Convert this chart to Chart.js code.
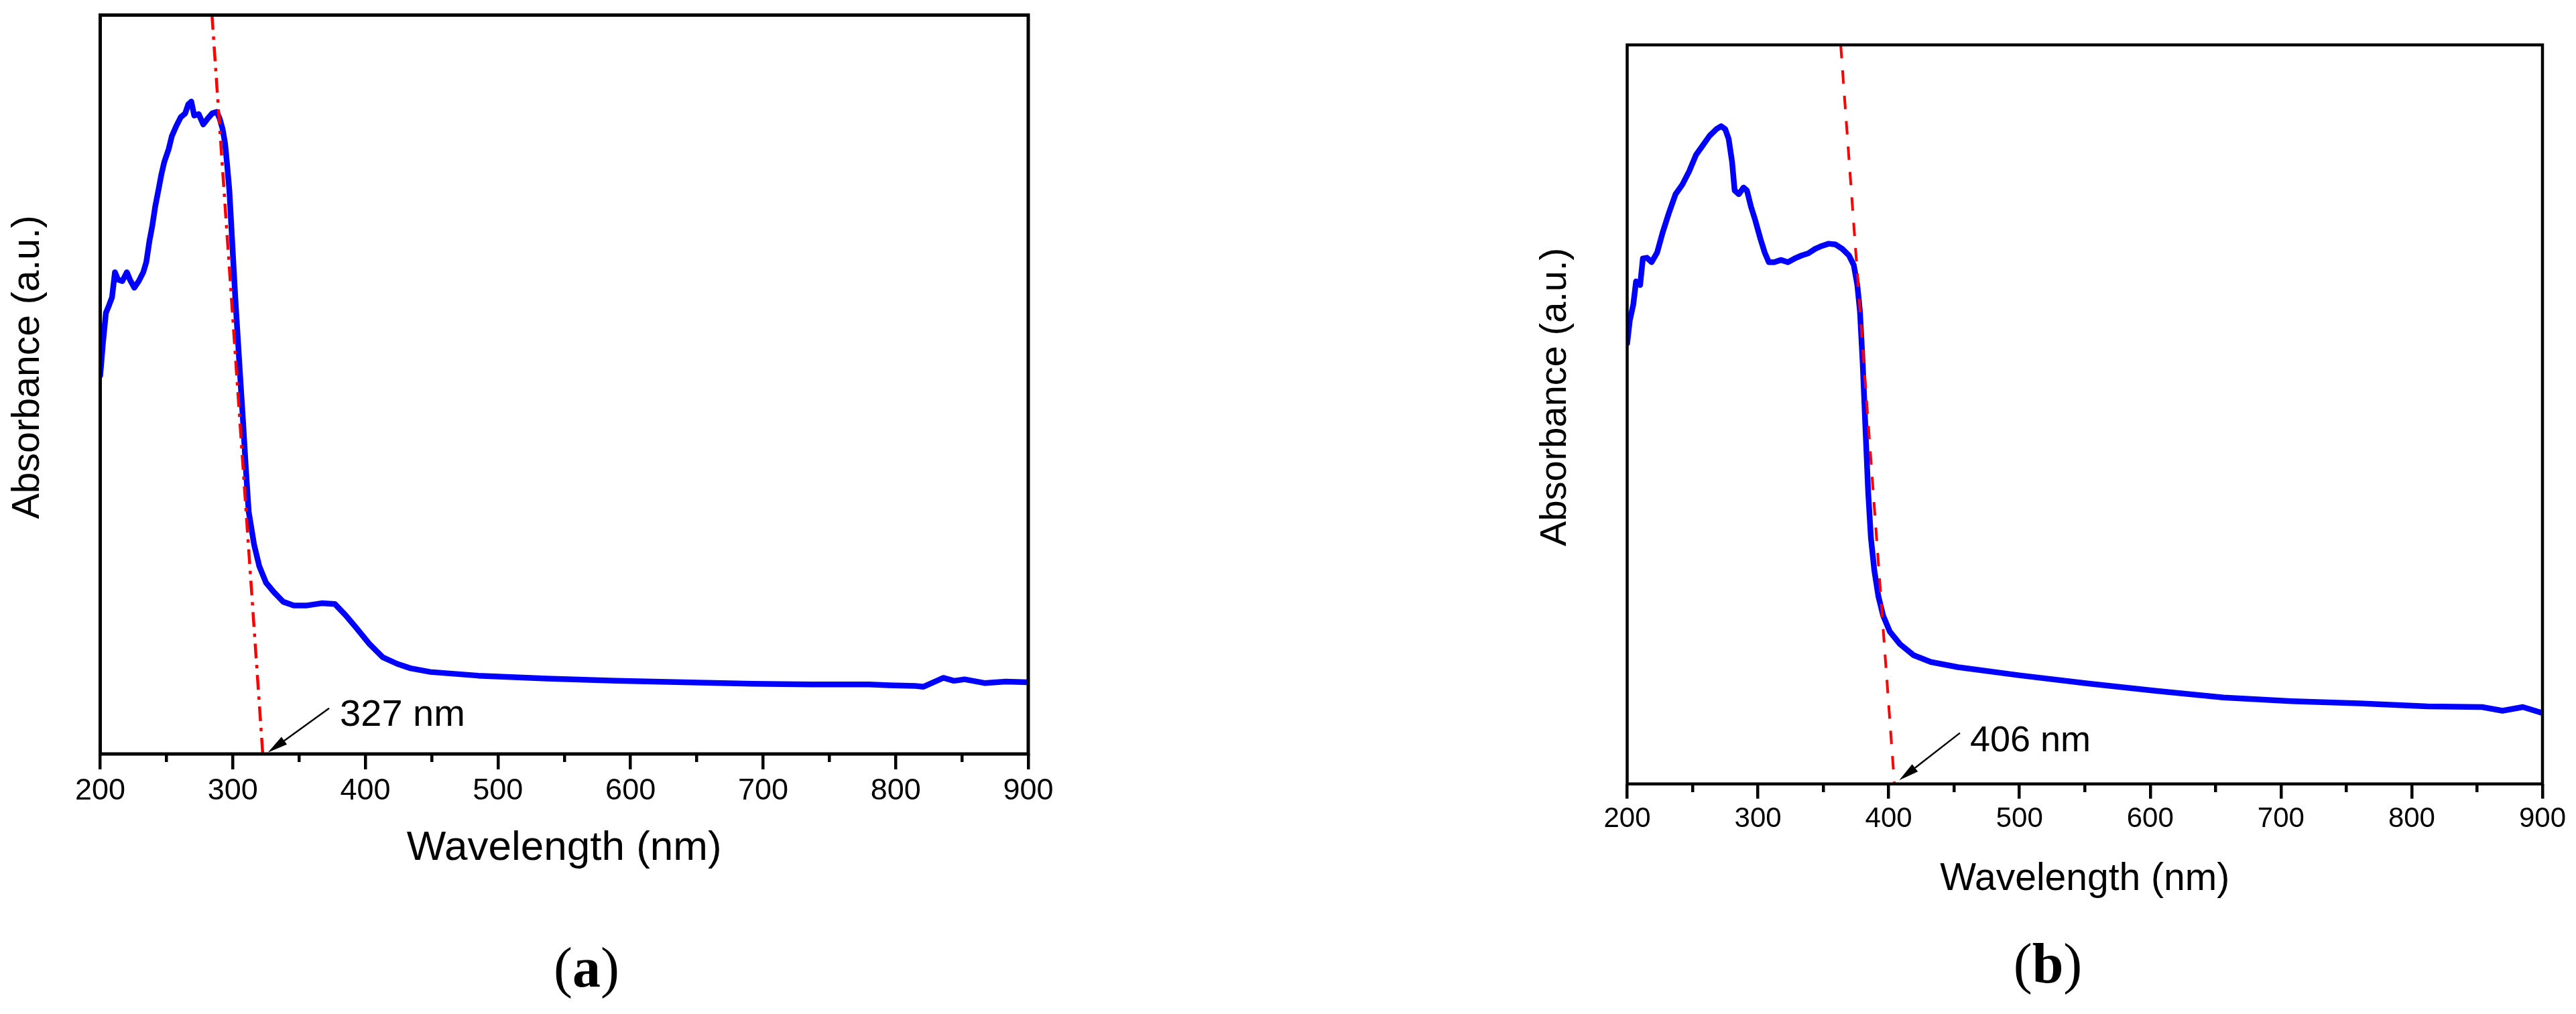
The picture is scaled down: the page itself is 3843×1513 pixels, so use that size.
<!DOCTYPE html>
<html>
<head>
<meta charset="utf-8">
<script src="https://cdn.jsdelivr.net/npm/chart.js@4.4.1/dist/chart.umd.min.js"></script>
<style>
  body { margin: 0; background: #fff; width: 3843px; height: 1513px; position: relative; overflow: hidden; }
  canvas { position: absolute; top: 0; }
  .cap { position: absolute; font-family: 'Liberation Serif', 'Times New Roman', serif; font-size: 84px; line-height: 1; transform: translateX(-50%); color: #000; }
</style>
</head>
<body>
<canvas id="chartA" width="1700" height="1340" style="left:0"></canvas>
<canvas id="chartB" width="1643" height="1380" style="left:2200px"></canvas>
<div class="cap" style="left:875px; top:1402px">(<b>a</b>)</div>
<div class="cap" style="left:3055px; top:1396px">(<b>b</b>)</div>
<script>
// Ejes comunes
const majorTicks = [200, 300, 400, 500, 600, 700, 800, 900]
const minorTicks = [250, 350, 450, 550, 650, 750, 850]
const allTicks = [...majorTicks, ...minorTicks].sort((a, b) => a - b)

// (a) espectro y recta tangente
const wlA = [200, 200.5, 202, 204.3, 206.6, 208.9, 211.1, 213.4, 216.7, 220.1,
  222.4, 225.7, 229.1, 232.5, 234.8, 237.1, 239.3, 241.6, 243.9, 246.1,
  248.3, 251.7, 254, 257.4, 260.8, 264.1, 266.4, 268.7, 270.9, 274.3,
  277.7, 281.1, 284.5, 287.9, 290.1, 292.3, 294.2, 295.7, 297.4, 298.7,
  300.3, 301.9, 303.7, 305.5, 307.7, 309.8, 312, 316, 320, 325,
  331, 338, 346, 356, 367, 377, 385, 393, 403, 413,
  424, 434, 449, 485, 537, 589, 640, 692, 737, 780,
  795, 815, 821, 836, 844, 852, 867, 883, 900]
const absA = [0.512, 0.522, 0.555, 0.597, 0.607, 0.618, 0.652, 0.642, 0.640, 0.652,
  0.642, 0.631, 0.640, 0.652, 0.666, 0.694, 0.715, 0.742, 0.763, 0.784,
  0.801, 0.819, 0.836, 0.850, 0.862, 0.867, 0.879, 0.883, 0.864, 0.866,
  0.852, 0.860, 0.867, 0.869, 0.860, 0.846, 0.826, 0.798, 0.763, 0.721,
  0.669, 0.617, 0.565, 0.513, 0.451, 0.388, 0.328, 0.284, 0.254, 0.232,
  0.219, 0.206, 0.201, 0.201, 0.204, 0.203, 0.188, 0.171, 0.149, 0.131,
  0.122, 0.116, 0.111, 0.106, 0.102, 0.099, 0.097, 0.095, 0.094, 0.094,
  0.093, 0.092, 0.091, 0.103, 0.099, 0.101, 0.096, 0.098, 0.097]
const fitXA = [284.3, 322.6]
const fitYA = [1.0, 0]
const noteA = { text: '327 nm', at: [380.8, 0.038], from: [372.7, 0.062], to: [326.5, 0.002] }

// (b) espectro y recta tangente
const wlB = [200, 202, 204.7, 206.8, 209.9, 212, 215.1, 218.7, 222.9, 227.1,
  231.8, 237, 242.2, 247.4, 252.6, 257.8, 263, 268.2, 271.8, 275,
  277.6, 280.2, 282.2, 285.4, 289, 291.6, 294.7, 297.9, 302, 305.2,
  308.3, 312.4, 317.6, 322.9, 328.1, 333.3, 338.5, 343.7, 348.9, 354.1,
  359.3, 364.5, 369.7, 373.3, 376, 378, 380.1, 382.2, 384.3, 386.4,
  389, 392.1, 395.7, 400.9, 408.7, 419.2, 432.2, 453, 499.8, 551.9,
  604, 656, 708, 760, 812, 853.8, 869.4, 885, 900]
const absB = [0.596, 0.627, 0.649, 0.680, 0.675, 0.711, 0.712, 0.706, 0.719, 0.746,
  0.772, 0.798, 0.811, 0.829, 0.851, 0.864, 0.877, 0.886, 0.890, 0.886,
  0.873, 0.842, 0.803, 0.798, 0.807, 0.803, 0.781, 0.763, 0.737, 0.719,
  0.706, 0.706, 0.709, 0.706, 0.711, 0.715, 0.718, 0.724, 0.728, 0.731,
  0.730, 0.724, 0.715, 0.702, 0.675, 0.640, 0.570, 0.482, 0.395, 0.333,
  0.289, 0.254, 0.228, 0.206, 0.189, 0.174, 0.165, 0.158, 0.147, 0.136,
  0.126, 0.117, 0.112, 0.109, 0.105, 0.104, 0.099, 0.104, 0.096]
const fitXB = [363.3, 404.4]
const fitYB = [1.0, 0]
const noteB = { text: '406 nm', at: [462.2, 0.044], from: [454.5, 0.069], to: [408, 0.005] }

Chart.defaults.font.family = "'Liberation Sans', Arial, sans-serif"
Chart.defaults.color = '#000'

// Marco, título del eje Y y anotación con flecha
const extras = {
  id: 'extras',
  afterDraw(chart, args, o) {
    const {ctx, chartArea: {left, top, right, bottom}, scales: {x, y}} = chart
    ctx.save()
    ctx.strokeStyle = '#000'
    ctx.lineWidth = o.frame
    ctx.strokeRect(left, top, right - left, bottom - top)

    // título Y
    ctx.fillStyle = '#000'
    ctx.font = `${o.titleSize}px 'Liberation Sans', Arial, sans-serif`
    ctx.textAlign = 'center'
    ctx.textBaseline = 'middle'
    ctx.translate(o.titleX, (top + bottom) / 2 - o.titleShift)
    ctx.rotate(-Math.PI / 2)
    ctx.fillText(o.yTitle, 0, 0)
    ctx.setTransform(1, 0, 0, 1, 0, 0)

    // etiqueta
    const n = o.note
    ctx.font = `${o.noteSize}px 'Liberation Sans', Arial, sans-serif`
    ctx.textAlign = 'left'
    ctx.textBaseline = 'alphabetic'
    ctx.fillText(n.text, x.getPixelForValue(n.at[0]), y.getPixelForValue(n.at[1]))

    // flecha
    const x0 = x.getPixelForValue(n.from[0]), y0 = y.getPixelForValue(n.from[1])
    const x1 = x.getPixelForValue(n.to[0]), y1 = y.getPixelForValue(n.to[1])
    const ang = Math.atan2(y1 - y0, x1 - x0)
    const head = 30, half = 7
    const bx = x1 - head * Math.cos(ang), by = y1 - head * Math.sin(ang)
    ctx.lineWidth = 2.5
    ctx.beginPath()
    ctx.moveTo(x0, y0)
    ctx.lineTo(bx, by)
    ctx.stroke()
    ctx.beginPath()
    ctx.moveTo(x1, y1)
    ctx.lineTo(bx + half * Math.sin(ang), by - half * Math.cos(ang))
    ctx.lineTo(bx - half * Math.sin(ang), by + half * Math.cos(ang))
    ctx.closePath()
    ctx.fill()
    ctx.restore()
  }
}

const makeChart = (id, wl, abs, fitX, fitY, dash, p) => {
  const spectrum = wl.map((w, i) => ({x: w, y: abs[i]}))
  const fit = fitX.map((w, i) => ({x: w, y: fitY[i]}))

  const config = {
    type: 'line',
    data: {
      datasets: [
        {
          data: fit,
          borderColor: '#ff0000',
          borderWidth: p.fitWidth,
          borderDash: dash,
          borderCapStyle: 'butt',
          pointRadius: 0,
          order: 0
        },
        {
          data: spectrum,
          borderColor: '#0000ff',
          borderWidth: 8.5,
          borderJoinStyle: 'round',
          borderCapStyle: 'round',
          pointRadius: 0,
          tension: 0,
          order: 1
        }
      ]
    },
    options: {
      responsive: false,
      animation: false,
      devicePixelRatio: 1,
      layout: { padding: p.padding },
      plugins: {
        legend: { display: false },
        tooltip: { enabled: false },
        extras: {
          frame: p.frame,
          yTitle: 'Absorbance (a.u.)',
          titleSize: p.yTitleSize,
          titleX: p.titleX,
          titleShift: 26,
          note: p.note,
          noteSize: p.noteSize
        }
      },
      scales: {
        x: {
          type: 'linear',
          min: 200,
          max: 900,
          afterBuildTicks: scale => { scale.ticks = allTicks.map(v => ({value: v})) },
          afterFit: scale => { scale.height = p.axisHeight },
          ticks: {
            autoSkip: false,
            maxRotation: 0,
            padding: p.tickPad,
            font: { size: p.tickSize },
            callback: v => majorTicks.includes(v) ? String(v) : ''
          },
          grid: {
            drawOnChartArea: false,
            drawTicks: true,
            tickLength: p.tickLen,
            lineWidth: 4.5,
            tickWidth: 4.5,
            tickColor: '#000',
            tickBorderDash: c => majorTicks.includes(c.tick.value) ? [] : [p.minorLen, 60]
          },
          border: { display: false },
          title: {
            display: true,
            text: 'Wavelength (nm)',
            font: { size: p.xTitleSize },
            padding: { top: 0, bottom: p.xTitlePad }
          }
        },
        y: {
          display: false,
          min: 0,
          max: 1
        }
      }
    },
    plugins: [extras]
  }
  return new Chart(document.getElementById(id), config)
}

makeChart('chartA', wlA, absA, fitXA, fitYA, [22, 10, 5, 10], {
  padding: { left: 149.5, top: 22.5, right: 166, bottom: 0 },
  axisHeight: 215, tickLen: 23, minorLen: 12, tickPad: 6, tickSize: 45,
  xTitleSize: 62, xTitlePad: 37, yTitleSize: 57, titleX: 42,
  frame: 5, fitWidth: 4.5, note: noteA, noteSize: 56
})

makeChart('chartB', wlB, absB, fitXB, fitYB, [20, 18], {
  padding: { left: 227.5, top: 67, right: 50, bottom: 0 },
  axisHeight: 210.3, tickLen: 22, minorLen: 12, tickPad: 5.6, tickSize: 42,
  xTitleSize: 57, xTitlePad: 34, yTitleSize: 56, titleX: 121,
  frame: 4.5, fitWidth: 4, note: noteB, noteSize: 54
})
</script>
</body>
</html>
